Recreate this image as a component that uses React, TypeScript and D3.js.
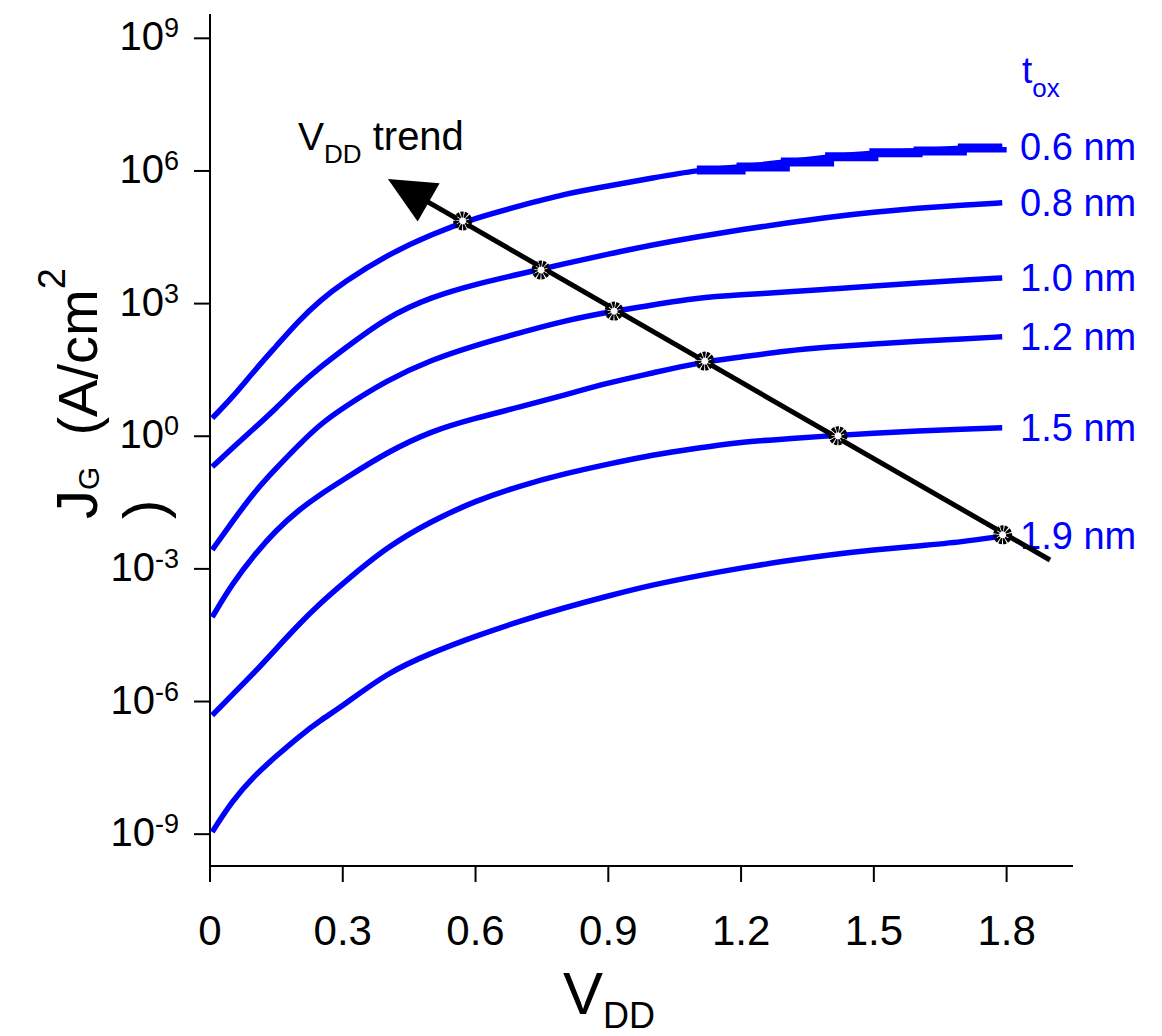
import React from "react";
import * as d3 from "d3";

// gate current density vs supply voltage, one curve per oxide thickness
const vdd = [0.005, 0.05, 0.1, 0.15, 0.2, 0.25, 0.3, 0.4, 0.5, 0.6, 0.7, 0.8, 0.9, 1.0, 1.1, 1.2, 1.3, 1.4, 1.5, 1.6, 1.7, 1.79];
const toxLabels = ["0.6 nm", "0.8 nm", "1.0 nm", "1.2 nm", "1.5 nm", "1.9 nm"];

// log10(J_G) in A/cm^2
const logJ06 = [0.41, 0.87, 1.48, 2.04, 2.61, 3.08, 3.47, 4.1, 4.57, 4.94, 5.21, 5.48, 5.66, 5.84, 6.02, 6.09, 6.2, 6.32, 6.41, 6.45, 6.52, 6.54];
const logJ08 = [-0.69, -0.27, 0.18, 0.64, 1.14, 1.57, 1.95, 2.7, 3.15, 3.44, 3.67, 3.9, 4.12, 4.33, 4.51, 4.67, 4.82, 4.96, 5.07, 5.16, 5.23, 5.28];
const logJ10 = [-2.57, -1.94, -1.26, -0.72, -0.2, 0.28, 0.64, 1.27, 1.73, 2.06, 2.34, 2.61, 2.81, 2.97, 3.13, 3.2, 3.26, 3.33, 3.4, 3.47, 3.53, 3.58];
const logJ12 = [-4.09, -3.34, -2.68, -2.12, -1.67, -1.31, -0.99, -0.36, 0.12, 0.41, 0.66, 0.93, 1.21, 1.43, 1.66, 1.79, 1.93, 2.02, 2.09, 2.15, 2.2, 2.25];
const logJ15 = [-6.31, -5.85, -5.35, -4.8, -4.26, -3.77, -3.33, -2.5, -1.92, -1.46, -1.12, -0.85, -0.63, -0.42, -0.27, -0.13, -0.06, 0.01, 0.07, 0.12, 0.16, 0.19];
const logJ19 = [-8.95, -8.25, -7.68, -7.23, -6.8, -6.42, -6.1, -5.35, -4.9, -4.52, -4.18, -3.88, -3.61, -3.36, -3.16, -2.98, -2.82, -2.68, -2.57, -2.48, -2.39, -2.26];
const allLogJ = [logJ06, logJ08, logJ10, logJ12, logJ15, logJ19];

// operating points along the VDD trend
const trendV = [0.571, 0.748, 0.913, 1.118, 1.419, 1.791];
const trendLogJ = [4.87, 3.76, 2.83, 1.7, 0.01, -2.23];
const trendTail = [1.898, -2.8];
const trendTip = [0.402, 5.82];

const xTicks = [0, 0.3, 0.6, 0.9, 1.2, 1.5, 1.8];
const yTickExp = [9, 6, 3, 0, -3, -6, -9];

const font = "Arial, 'Liberation Sans', sans-serif";
const blue = "#0000ff";

export default function App() {
  const x = d3.scaleLinear().domain([0, 1.95]).range([210, 1073]);
  const y = d3.scaleLog().domain([10 ** -9.72, 10 ** 9.55]).range([866, 14]);

  const line = d3
    .line<[number, number]>()
    .x((d) => x(d[0]))
    .y((d) => y(10 ** d[1]))
    .curve(d3.curveBasis);

  const stepLine = d3
    .line<[number, number]>()
    .x((d) => x(d[0]))
    .y((d) => y(10 ** d[1]))
    .curve(d3.curveStepAfter);

  const series = allLogJ.map((s) => s.map((v, i) => [vdd[i], v] as [number, number]));

  // trend arrow in pixel space
  const tx0 = x(trendTail[0]), ty0 = y(10 ** trendTail[1]);
  const tx1 = x(trendTip[0]), ty1 = y(10 ** trendTip[1]);
  const len = Math.hypot(tx1 - tx0, ty1 - ty0);
  const ux = (tx1 - tx0) / len, uy = (ty1 - ty0) / len;
  const headLen = 47, headHalf = 22;
  const bx = tx1 - ux * headLen, by = ty1 - uy * headLen;
  const head = [
    [tx1, ty1],
    [bx - uy * headHalf, by + ux * headHalf],
    [bx + uy * headHalf, by - ux * headHalf],
  ];

  return (
    <svg
      width={1162}
      height={1036}
      style={{ position: "absolute", left: 0, top: 0, background: "#fff" }}
      fontFamily={font}
    >
      {/* axes */}
      <line x1={210} x2={210} y1={14} y2={867} stroke="#000" strokeWidth={2} />
      <line x1={209} x2={1073} y1={866} y2={866} stroke="#000" strokeWidth={2} />
      {xTicks.map((t) => (
        <g key={t}>
          <line x1={x(t)} x2={x(t)} y1={866} y2={882} stroke="#000" strokeWidth={2} />
          <text x={x(t)} y={945} fontSize={42} textAnchor="middle">
            {t === 0 ? "0" : t.toFixed(1)}
          </text>
        </g>
      ))}
      {yTickExp.map((e) => (
        <g key={e}>
          <line x1={194} x2={210} y1={y(10 ** e)} y2={y(10 ** e)} stroke="#000" strokeWidth={2} />
          <text x={179} y={y(10 ** e) + 12} textAnchor="end">
            <tspan fontSize={40}>10</tspan>
            <tspan fontSize={27} dy={-13}>
              {e < 0 ? "-" + Math.abs(e) : e}
            </tspan>
          </text>
        </g>
      ))}

      {/* axis titles */}
      <text x={563} y={1014}>
        <tspan fontSize={60}>V</tspan>
        <tspan fontSize={36} dy={14}>DD</tspan>
      </text>
      <text transform="translate(97,519) rotate(-90)">
        <tspan fontSize={58}>J</tspan>
        <tspan fontSize={30} dy={2}>G</tspan>
        <tspan fontSize={56} dy={-2}>{"\u00a0\u00a0(A/cm"}</tspan>
        <tspan fontSize={38} dy={-32}>2</tspan>
        <tspan x={0} y={67} fontSize={58}>)</tspan>
      </text>

      {/* curves */}
      {series.map((s, i) => (
        <path key={i} d={line(s) || ""} fill="none" stroke={blue} strokeWidth={5.5} />
      ))}
      <path
        d={stepLine(series[0].filter((d) => d[0] >= 1.1)) || ""}
        fill="none"
        stroke={blue}
        strokeWidth={9}
      />

      {/* tox labels */}
      <text x={1022} y={83} fill={blue}>
        <tspan fontSize={37}>t</tspan>
        <tspan fontSize={26} dy={14}>ox</tspan>
      </text>
      {series.map((s, i) => (
        <text key={i} x={1020} y={y(10 ** s[s.length - 1][1]) + 13} fill={blue} fontSize={38}>
          {toxLabels[i]}
        </text>
      ))}

      {/* trend */}
      <line x1={tx0} y1={ty0} x2={bx + ux * 4} y2={by + uy * 4} stroke="#000" strokeWidth={5} />
      <polygon points={head.map((p) => p.join(",")).join(" ")} fill="#000" />
      {trendV.map((v, i) => (
        <circle
          key={i}
          cx={x(v)}
          cy={y(10 ** trendLogJ[i])}
          r={6.5}
          fill="#fff"
          stroke="#000"
          strokeWidth={6}
          strokeDasharray="2.6 0.9"
        />
      ))}
      <text x={298} y={150}>
        <tspan fontSize={39}>V</tspan>
        <tspan fontSize={26} dy={13}>DD</tspan>
        <tspan fontSize={40} dy={-13}>{"\u00a0trend"}</tspan>
      </text>
    </svg>
  );
}
